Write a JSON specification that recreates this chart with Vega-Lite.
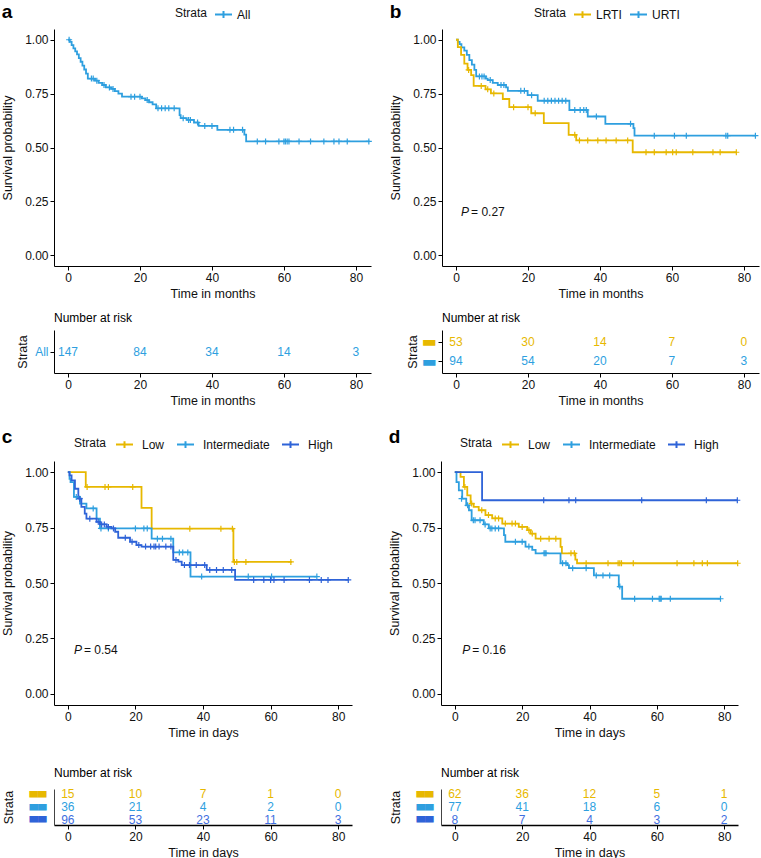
{
"$schema":"https://vega.github.io/schema/vega-lite/v6.json",
"padding":{"left":1,"top":3,"right":0,"bottom":0},
"config":{"font":"Liberation Sans","view":{"stroke":null},
"axis":{"grid":false,"domainColor":"#000","tickColor":"#000","labelColor":"#111","titleColor":"#111","labelFontSize":12,"titleFontSize":12.5,"titleFontWeight":"normal","tickSize":4,"labelPadding":2},
"legend":{"titleFontSize":12,"titleFontWeight":"normal","labelFontSize":12,"titleColor":"#111","labelColor":"#111"},
"title":{"color":"#000"}},
"datasets":{
"a_line":[{"t":0,"s":1,"g":"All"},{"t":0.5,"s":0.99,"g":"All"},{"t":1,"s":0.975,"g":"All"},{"t":1.5,"s":0.96,"g":"All"},{"t":2,"s":0.946,"g":"All"},{"t":2.5,"s":0.932,"g":"All"},{"t":3,"s":0.915,"g":"All"},{"t":3.5,"s":0.898,"g":"All"},{"t":4,"s":0.88,"g":"All"},{"t":4.5,"s":0.862,"g":"All"},{"t":5,"s":0.843,"g":"All"},{"t":5.5,"s":0.82,"g":"All"},{"t":7.5,"s":0.81,"g":"All"},{"t":8.5,"s":0.8,"g":"All"},{"t":9.5,"s":0.79,"g":"All"},{"t":10.5,"s":0.779,"g":"All"},{"t":12,"s":0.772,"g":"All"},{"t":13,"s":0.762,"g":"All"},{"t":14,"s":0.75,"g":"All"},{"t":15,"s":0.736,"g":"All"},{"t":20.5,"s":0.728,"g":"All"},{"t":21.5,"s":0.72,"g":"All"},{"t":22.5,"s":0.71,"g":"All"},{"t":23.5,"s":0.7,"g":"All"},{"t":24.5,"s":0.682,"g":"All"},{"t":31,"s":0.65,"g":"All"},{"t":31.3,"s":0.636,"g":"All"},{"t":33,"s":0.628,"g":"All"},{"t":35,"s":0.616,"g":"All"},{"t":36.3,"s":0.6,"g":"All"},{"t":41.5,"s":0.582,"g":"All"},{"t":49,"s":0.56,"g":"All"},{"t":49.5,"s":0.528,"g":"All"},{"t":83.8,"s":0.528,"g":"All"}],
"a_cens":[{"t":0.3,"s":1,"g":"All"},{"t":6.5,"s":0.82,"g":"All"},{"t":7,"s":0.82,"g":"All"},{"t":8,"s":0.81,"g":"All"},{"t":10,"s":0.79,"g":"All"},{"t":11.5,"s":0.779,"g":"All"},{"t":12.5,"s":0.772,"g":"All"},{"t":17.5,"s":0.736,"g":"All"},{"t":18.5,"s":0.736,"g":"All"},{"t":20,"s":0.736,"g":"All"},{"t":22,"s":0.72,"g":"All"},{"t":25,"s":0.682,"g":"All"},{"t":26,"s":0.682,"g":"All"},{"t":27,"s":0.682,"g":"All"},{"t":28,"s":0.682,"g":"All"},{"t":29.5,"s":0.682,"g":"All"},{"t":32,"s":0.636,"g":"All"},{"t":33.5,"s":0.628,"g":"All"},{"t":34,"s":0.628,"g":"All"},{"t":36,"s":0.616,"g":"All"},{"t":38,"s":0.6,"g":"All"},{"t":40,"s":0.6,"g":"All"},{"t":45,"s":0.582,"g":"All"},{"t":46,"s":0.582,"g":"All"},{"t":48.5,"s":0.582,"g":"All"},{"t":52.6,"s":0.528,"g":"All"},{"t":54.9,"s":0.528,"g":"All"},{"t":58.6,"s":0.528,"g":"All"},{"t":60,"s":0.528,"g":"All"},{"t":60.4,"s":0.528,"g":"All"},{"t":60.9,"s":0.528,"g":"All"},{"t":61.4,"s":0.528,"g":"All"},{"t":64.2,"s":0.528,"g":"All"},{"t":67.4,"s":0.528,"g":"All"},{"t":71.1,"s":0.528,"g":"All"},{"t":73.9,"s":0.528,"g":"All"},{"t":75.3,"s":0.528,"g":"All"},{"t":77.6,"s":0.528,"g":"All"},{"t":83.6,"s":0.528,"g":"All"}],
"b_line":[{"t":0,"s":1,"g":"URTI"},{"t":0.5,"s":0.99,"g":"URTI"},{"t":1,"s":0.98,"g":"URTI"},{"t":1.5,"s":0.965,"g":"URTI"},{"t":2.3,"s":0.95,"g":"URTI"},{"t":3,"s":0.93,"g":"URTI"},{"t":3.7,"s":0.906,"g":"URTI"},{"t":4.4,"s":0.885,"g":"URTI"},{"t":5.1,"s":0.86,"g":"URTI"},{"t":5.6,"s":0.83,"g":"URTI"},{"t":8.3,"s":0.82,"g":"URTI"},{"t":8.8,"s":0.813,"g":"URTI"},{"t":10.2,"s":0.8,"g":"URTI"},{"t":11.6,"s":0.79,"g":"URTI"},{"t":13.9,"s":0.779,"g":"URTI"},{"t":14.4,"s":0.763,"g":"URTI"},{"t":19.9,"s":0.743,"g":"URTI"},{"t":22.7,"s":0.717,"g":"URTI"},{"t":31.5,"s":0.674,"g":"URTI"},{"t":36.6,"s":0.644,"g":"URTI"},{"t":41.5,"s":0.61,"g":"URTI"},{"t":49.3,"s":0.59,"g":"URTI"},{"t":49.6,"s":0.555,"g":"URTI"},{"t":83.4,"s":0.555,"g":"URTI"},
{"t":0,"s":1,"g":"LRTI"},{"t":0.5,"s":0.966,"g":"LRTI"},{"t":1.4,"s":0.93,"g":"LRTI"},{"t":2.3,"s":0.889,"g":"LRTI"},{"t":3.2,"s":0.86,"g":"LRTI"},{"t":4.2,"s":0.836,"g":"LRTI"},{"t":4.9,"s":0.786,"g":"LRTI"},{"t":8.2,"s":0.77,"g":"LRTI"},{"t":9.7,"s":0.751,"g":"LRTI"},{"t":13,"s":0.725,"g":"LRTI"},{"t":14.8,"s":0.687,"g":"LRTI"},{"t":20.9,"s":0.659,"g":"LRTI"},{"t":24.4,"s":0.613,"g":"LRTI"},{"t":31.3,"s":0.559,"g":"LRTI"},{"t":33.4,"s":0.533,"g":"LRTI"},{"t":49.1,"s":0.478,"g":"LRTI"},{"t":78,"s":0.478,"g":"LRTI"}],
"b_cens":[{"t":6.5,"s":0.83,"g":"URTI"},{"t":7.2,"s":0.83,"g":"URTI"},{"t":7.8,"s":0.83,"g":"URTI"},{"t":9.5,"s":0.813,"g":"URTI"},{"t":12.5,"s":0.79,"g":"URTI"},{"t":13.3,"s":0.79,"g":"URTI"},{"t":18,"s":0.763,"g":"URTI"},{"t":19,"s":0.763,"g":"URTI"},{"t":21,"s":0.743,"g":"URTI"},{"t":24.5,"s":0.717,"g":"URTI"},{"t":25.5,"s":0.717,"g":"URTI"},{"t":26.5,"s":0.717,"g":"URTI"},{"t":27.5,"s":0.717,"g":"URTI"},{"t":28.5,"s":0.717,"g":"URTI"},{"t":29.5,"s":0.717,"g":"URTI"},{"t":30.5,"s":0.717,"g":"URTI"},{"t":33,"s":0.674,"g":"URTI"},{"t":34.5,"s":0.674,"g":"URTI"},{"t":35.5,"s":0.674,"g":"URTI"},{"t":36.2,"s":0.674,"g":"URTI"},{"t":39,"s":0.644,"g":"URTI"},{"t":48.5,"s":0.61,"g":"URTI"},{"t":55.1,"s":0.555,"g":"URTI"},{"t":60.7,"s":0.555,"g":"URTI"},{"t":64,"s":0.555,"g":"URTI"},{"t":75,"s":0.555,"g":"URTI"},{"t":75.5,"s":0.555,"g":"URTI"},{"t":83.2,"s":0.555,"g":"URTI"},
{"t":3.5,"s":0.86,"g":"LRTI"},{"t":7,"s":0.786,"g":"LRTI"},{"t":8.8,"s":0.77,"g":"LRTI"},{"t":10.5,"s":0.751,"g":"LRTI"},{"t":16,"s":0.687,"g":"LRTI"},{"t":20,"s":0.687,"g":"LRTI"},{"t":22,"s":0.659,"g":"LRTI"},{"t":33,"s":0.559,"g":"LRTI"},{"t":34.3,"s":0.533,"g":"LRTI"},{"t":36.6,"s":0.533,"g":"LRTI"},{"t":39.4,"s":0.533,"g":"LRTI"},{"t":41.7,"s":0.533,"g":"LRTI"},{"t":44.5,"s":0.533,"g":"LRTI"},{"t":47.7,"s":0.533,"g":"LRTI"},{"t":52.8,"s":0.478,"g":"LRTI"},{"t":55.1,"s":0.478,"g":"LRTI"},{"t":58.4,"s":0.478,"g":"LRTI"},{"t":60.2,"s":0.478,"g":"LRTI"},{"t":61.2,"s":0.478,"g":"LRTI"},{"t":65.8,"s":0.478,"g":"LRTI"},{"t":71.4,"s":0.478,"g":"LRTI"},{"t":73.4,"s":0.478,"g":"LRTI"},{"t":77.9,"s":0.478,"g":"LRTI"}],
"c_line":[{"t":0,"s":1,"g":"Low"},{"t":5.3,"s":0.933,"g":"Low"},{"t":21.8,"s":0.839,"g":"Low"},{"t":24.8,"s":0.745,"g":"Low"},{"t":49,"s":0.595,"g":"Low"},{"t":66.3,"s":0.595,"g":"Low"},
{"t":0,"s":1,"g":"Intermediate"},{"t":0.5,"s":0.97,"g":"Intermediate"},{"t":0.8,"s":0.955,"g":"Intermediate"},{"t":1.8,"s":0.888,"g":"Intermediate"},{"t":3.6,"s":0.858,"g":"Intermediate"},{"t":5.5,"s":0.836,"g":"Intermediate"},{"t":8.5,"s":0.79,"g":"Intermediate"},{"t":9.5,"s":0.746,"g":"Intermediate"},{"t":24.8,"s":0.7,"g":"Intermediate"},{"t":31.2,"s":0.638,"g":"Intermediate"},{"t":36.3,"s":0.529,"g":"Intermediate"},{"t":73.7,"s":0.529,"g":"Intermediate"},
{"t":0,"s":1,"g":"High"},{"t":0.5,"s":0.985,"g":"High"},{"t":1.1,"s":0.963,"g":"High"},{"t":2.1,"s":0.925,"g":"High"},{"t":3.1,"s":0.88,"g":"High"},{"t":4,"s":0.843,"g":"High"},{"t":5,"s":0.813,"g":"High"},{"t":5.5,"s":0.79,"g":"High"},{"t":8.5,"s":0.776,"g":"High"},{"t":9.5,"s":0.764,"g":"High"},{"t":11.5,"s":0.753,"g":"High"},{"t":12.9,"s":0.746,"g":"High"},{"t":14,"s":0.731,"g":"High"},{"t":14.9,"s":0.704,"g":"High"},{"t":18.4,"s":0.686,"g":"High"},{"t":20.3,"s":0.671,"g":"High"},{"t":21.8,"s":0.664,"g":"High"},{"t":31.2,"s":0.604,"g":"High"},{"t":32.7,"s":0.596,"g":"High"},{"t":33.7,"s":0.581,"g":"High"},{"t":41.1,"s":0.559,"g":"High"},{"t":49.5,"s":0.514,"g":"High"},{"t":83,"s":0.514,"g":"High"}],
"c_cens":[{"t":5.7,"s":0.933,"g":"Low"},{"t":11,"s":0.933,"g":"Low"},{"t":12,"s":0.933,"g":"Low"},{"t":19.2,"s":0.933,"g":"Low"},{"t":36.1,"s":0.745,"g":"Low"},{"t":45.3,"s":0.745,"g":"Low"},{"t":48.7,"s":0.745,"g":"Low"},{"t":49.3,"s":0.595,"g":"Low"},{"t":50,"s":0.595,"g":"Low"},{"t":52.7,"s":0.595,"g":"Low"},{"t":66,"s":0.595,"g":"Low"},
{"t":2.5,"s":0.888,"g":"Intermediate"},{"t":7.5,"s":0.836,"g":"Intermediate"},{"t":9.8,"s":0.746,"g":"Intermediate"},{"t":12,"s":0.746,"g":"Intermediate"},{"t":20,"s":0.746,"g":"Intermediate"},{"t":22.5,"s":0.746,"g":"Intermediate"},{"t":23.5,"s":0.746,"g":"Intermediate"},{"t":26.5,"s":0.7,"g":"Intermediate"},{"t":28,"s":0.7,"g":"Intermediate"},{"t":30.5,"s":0.7,"g":"Intermediate"},{"t":33,"s":0.638,"g":"Intermediate"},{"t":34,"s":0.638,"g":"Intermediate"},{"t":35.5,"s":0.638,"g":"Intermediate"},{"t":39.6,"s":0.529,"g":"Intermediate"},{"t":53.4,"s":0.529,"g":"Intermediate"},{"t":60.3,"s":0.529,"g":"Intermediate"},{"t":73.7,"s":0.529,"g":"Intermediate"},
{"t":3.5,"s":0.88,"g":"High"},{"t":6.5,"s":0.79,"g":"High"},{"t":9,"s":0.776,"g":"High"},{"t":10,"s":0.764,"g":"High"},{"t":10.8,"s":0.764,"g":"High"},{"t":12,"s":0.753,"g":"High"},{"t":13.5,"s":0.746,"g":"High"},{"t":17,"s":0.704,"g":"High"},{"t":19,"s":0.686,"g":"High"},{"t":21,"s":0.671,"g":"High"},{"t":23,"s":0.664,"g":"High"},{"t":24.5,"s":0.664,"g":"High"},{"t":25.5,"s":0.664,"g":"High"},{"t":26,"s":0.664,"g":"High"},{"t":27,"s":0.664,"g":"High"},{"t":29,"s":0.664,"g":"High"},{"t":30.5,"s":0.664,"g":"High"},{"t":32,"s":0.604,"g":"High"},{"t":34.5,"s":0.581,"g":"High"},{"t":36,"s":0.581,"g":"High"},{"t":38,"s":0.581,"g":"High"},{"t":40.5,"s":0.581,"g":"High"},{"t":42,"s":0.559,"g":"High"},{"t":44,"s":0.559,"g":"High"},{"t":46,"s":0.559,"g":"High"},{"t":48.5,"s":0.559,"g":"High"},{"t":55,"s":0.514,"g":"High"},{"t":58,"s":0.514,"g":"High"},{"t":60,"s":0.514,"g":"High"},{"t":61,"s":0.514,"g":"High"},{"t":64,"s":0.514,"g":"High"},{"t":71.5,"s":0.514,"g":"High"},{"t":75,"s":0.514,"g":"High"},{"t":77,"s":0.514,"g":"High"},{"t":83,"s":0.514,"g":"High"}],
"d_line":[{"t":0,"s":1,"g":"Low"},{"t":1.7,"s":0.978,"g":"Low"},{"t":2.7,"s":0.933,"g":"Low"},{"t":3.7,"s":0.895,"g":"Low"},{"t":4.7,"s":0.858,"g":"Low"},{"t":5.6,"s":0.843,"g":"Low"},{"t":7.1,"s":0.828,"g":"Low"},{"t":9.1,"s":0.806,"g":"Low"},{"t":11.1,"s":0.791,"g":"Low"},{"t":14.1,"s":0.768,"g":"Low"},{"t":19,"s":0.753,"g":"Low"},{"t":21.5,"s":0.738,"g":"Low"},{"t":22.5,"s":0.723,"g":"Low"},{"t":24,"s":0.7,"g":"Low"},{"t":31.4,"s":0.663,"g":"Low"},{"t":31.8,"s":0.634,"g":"Low"},{"t":35.8,"s":0.605,"g":"Low"},{"t":36.3,"s":0.589,"g":"Low"},{"t":84,"s":0.589,"g":"Low"},
{"t":0,"s":1,"g":"Intermediate"},{"t":0.5,"s":0.955,"g":"Intermediate"},{"t":1.2,"s":0.918,"g":"Intermediate"},{"t":2.2,"s":0.88,"g":"Intermediate"},{"t":3.4,"s":0.85,"g":"Intermediate"},{"t":4.2,"s":0.828,"g":"Intermediate"},{"t":5,"s":0.783,"g":"Intermediate"},{"t":8.6,"s":0.764,"g":"Intermediate"},{"t":10.1,"s":0.746,"g":"Intermediate"},{"t":14.6,"s":0.716,"g":"Intermediate"},{"t":15,"s":0.686,"g":"Intermediate"},{"t":21,"s":0.664,"g":"Intermediate"},{"t":23,"s":0.649,"g":"Intermediate"},{"t":24,"s":0.634,"g":"Intermediate"},{"t":31.4,"s":0.589,"g":"Intermediate"},{"t":33.4,"s":0.581,"g":"Intermediate"},{"t":33.9,"s":0.567,"g":"Intermediate"},{"t":41.3,"s":0.534,"g":"Intermediate"},{"t":48.7,"s":0.484,"g":"Intermediate"},{"t":49.7,"s":0.429,"g":"Intermediate"},{"t":78.9,"s":0.429,"g":"Intermediate"},
{"t":0,"s":1,"g":"High"},{"t":8.1,"s":0.873,"g":"High"},{"t":83.9,"s":0.873,"g":"High"}],
"d_cens":[{"t":3,"s":0.933,"g":"Low"},{"t":5,"s":0.858,"g":"Low"},{"t":8,"s":0.828,"g":"Low"},{"t":10,"s":0.806,"g":"Low"},{"t":12,"s":0.791,"g":"Low"},{"t":13,"s":0.791,"g":"Low"},{"t":15,"s":0.768,"g":"Low"},{"t":17,"s":0.768,"g":"Low"},{"t":18,"s":0.768,"g":"Low"},{"t":20,"s":0.753,"g":"Low"},{"t":22,"s":0.738,"g":"Low"},{"t":23,"s":0.723,"g":"Low"},{"t":25.5,"s":0.7,"g":"Low"},{"t":28,"s":0.7,"g":"Low"},{"t":30,"s":0.7,"g":"Low"},{"t":34.5,"s":0.634,"g":"Low"},{"t":35.5,"s":0.634,"g":"Low"},{"t":39,"s":0.589,"g":"Low"},{"t":45.5,"s":0.589,"g":"Low"},{"t":48.5,"s":0.589,"g":"Low"},{"t":49,"s":0.589,"g":"Low"},{"t":49.5,"s":0.589,"g":"Low"},{"t":53,"s":0.589,"g":"Low"},{"t":66,"s":0.589,"g":"Low"},{"t":71,"s":0.589,"g":"Low"},{"t":73.5,"s":0.589,"g":"Low"},{"t":75,"s":0.589,"g":"Low"},{"t":84,"s":0.589,"g":"Low"},
{"t":2,"s":0.88,"g":"Intermediate"},{"t":3.8,"s":0.85,"g":"Intermediate"},{"t":5.5,"s":0.783,"g":"Intermediate"},{"t":6,"s":0.783,"g":"Intermediate"},{"t":7.5,"s":0.783,"g":"Intermediate"},{"t":9,"s":0.764,"g":"Intermediate"},{"t":10.5,"s":0.746,"g":"Intermediate"},{"t":11,"s":0.746,"g":"Intermediate"},{"t":12,"s":0.746,"g":"Intermediate"},{"t":13,"s":0.746,"g":"Intermediate"},{"t":18,"s":0.686,"g":"Intermediate"},{"t":20,"s":0.686,"g":"Intermediate"},{"t":22,"s":0.664,"g":"Intermediate"},{"t":26.5,"s":0.634,"g":"Intermediate"},{"t":26.8,"s":0.634,"g":"Intermediate"},{"t":27.1,"s":0.634,"g":"Intermediate"},{"t":32,"s":0.589,"g":"Intermediate"},{"t":33,"s":0.589,"g":"Intermediate"},{"t":35,"s":0.567,"g":"Intermediate"},{"t":39,"s":0.567,"g":"Intermediate"},{"t":42,"s":0.534,"g":"Intermediate"},{"t":44,"s":0.534,"g":"Intermediate"},{"t":46,"s":0.534,"g":"Intermediate"},{"t":49,"s":0.484,"g":"Intermediate"},{"t":53.4,"s":0.429,"g":"Intermediate"},{"t":58.7,"s":0.429,"g":"Intermediate"},{"t":60.7,"s":0.429,"g":"Intermediate"},{"t":61,"s":0.429,"g":"Intermediate"},{"t":61.3,"s":0.429,"g":"Intermediate"},{"t":64,"s":0.429,"g":"Intermediate"},{"t":78.9,"s":0.429,"g":"Intermediate"},
{"t":26.4,"s":0.873,"g":"High"},{"t":33.9,"s":0.873,"g":"High"},{"t":35.9,"s":0.873,"g":"High"},{"t":55.5,"s":0.873,"g":"High"},{"t":74.7,"s":0.873,"g":"High"},{"t":83.9,"s":0.873,"g":"High"}],
"a_risk":[{"t":0,"g":"All","n":147},{"t":20,"g":"All","n":84},{"t":40,"g":"All","n":34},{"t":60,"g":"All","n":14},{"t":80,"g":"All","n":3}],
"b_risk":[{"t":0,"g":"LRTI","n":53},{"t":20,"g":"LRTI","n":30},{"t":40,"g":"LRTI","n":14},{"t":60,"g":"LRTI","n":7},{"t":80,"g":"LRTI","n":0},{"t":0,"g":"URTI","n":94},{"t":20,"g":"URTI","n":54},{"t":40,"g":"URTI","n":20},{"t":60,"g":"URTI","n":7},{"t":80,"g":"URTI","n":3}],
"c_risk":[{"t":0,"g":"Low","n":15},{"t":20,"g":"Low","n":10},{"t":40,"g":"Low","n":7},{"t":60,"g":"Low","n":1},{"t":80,"g":"Low","n":0},{"t":0,"g":"Intermediate","n":36},{"t":20,"g":"Intermediate","n":21},{"t":40,"g":"Intermediate","n":4},{"t":60,"g":"Intermediate","n":2},{"t":80,"g":"Intermediate","n":0},{"t":0,"g":"High","n":96},{"t":20,"g":"High","n":53},{"t":40,"g":"High","n":23},{"t":60,"g":"High","n":11},{"t":80,"g":"High","n":3}],
"d_risk":[{"t":0,"g":"Low","n":62},{"t":20,"g":"Low","n":36},{"t":40,"g":"Low","n":12},{"t":60,"g":"Low","n":5},{"t":80,"g":"Low","n":1},{"t":0,"g":"Intermediate","n":77},{"t":20,"g":"Intermediate","n":41},{"t":40,"g":"Intermediate","n":18},{"t":60,"g":"Intermediate","n":6},{"t":80,"g":"Intermediate","n":0},{"t":0,"g":"High","n":8},{"t":20,"g":"High","n":7},{"t":40,"g":"High","n":4},{"t":60,"g":"High","n":3},{"t":80,"g":"High","n":2}]
},
"spacing":21,
"resolve":{"scale":{"color":"independent","x":"independent","y":"independent"},"legend":{"color":"independent"}},
"vconcat":[
{"columns":2,"spacing":{"row":12,"column":14},
"resolve":{"scale":{"color":"independent","x":"independent","y":"independent"},"legend":{"color":"independent"}},
"concat":[
{"width":317,"height":237,
"title":{"text":"a","anchor":"start","frame":"bounds","fontSize":19,"fontWeight":"bold","offset":-17},
"layer":[
{"data":{"name":"a_line"},"mark":{"type":"line","interpolate":"step-after","strokeWidth":1.8},
"encoding":{"x":{"field":"t","type":"quantitative","scale":{"domain":[-3.9,84.2],"nice":false,"zero":false},"axis":{"values":[0,20,40,60,80],"title":"Time in months","titlePadding":4}},
"y":{"field":"s","type":"quantitative","scale":{"domain":[-0.05,1.05],"nice":false,"zero":false},"axis":{"values":[0,0.25,0.5,0.75,1],"format":".2f","title":"Survival probability","titlePadding":10}},
"color":{"field":"g","type":"nominal","scale":{"domain":["All"],"range":["#2E9FDF"]},"legend":{"title":"Strata","orient":"none","legendX":121,"legendY":-24,"direction":"horizontal","titleOrient":"left","titlePadding":6,"symbolType":"M-1,0H1M0,-0.4V0.4","symbolSize":289,"symbolStrokeWidth":2,"labelOffset":4}}}},
{"data":{"name":"a_cens"},"mark":{"type":"point","shape":"M-1,0H1M0,-1V1","filled":false,"size":36,"strokeWidth":1.2,"opacity":1},
"encoding":{"x":{"field":"t","type":"quantitative"},"y":{"field":"s","type":"quantitative"},"color":{"field":"g","type":"nominal"}}}
]},
{"width":317,"height":237,
"title":{"text":"b","anchor":"start","frame":"bounds","fontSize":19,"fontWeight":"bold","offset":-17},
"layer":[
{"data":{"name":"b_line"},"mark":{"type":"line","interpolate":"step-after","strokeWidth":1.8},
"encoding":{"x":{"field":"t","type":"quantitative","scale":{"domain":[-3.9,84.2],"nice":false,"zero":false},"axis":{"values":[0,20,40,60,80],"title":"Time in months","titlePadding":4}},
"y":{"field":"s","type":"quantitative","scale":{"domain":[-0.05,1.05],"nice":false,"zero":false},"axis":{"values":[0,0.25,0.5,0.75,1],"format":".2f","title":"Survival probability","titlePadding":10}},
"color":{"field":"g","type":"nominal","scale":{"domain":["LRTI","URTI"],"range":["#E7B800","#2E9FDF"]},"legend":{"title":"Strata","orient":"none","legendX":92,"legendY":-24,"direction":"horizontal","titleOrient":"left","titlePadding":6,"symbolType":"M-1,0H1M0,-0.4V0.4","symbolSize":289,"symbolStrokeWidth":2,"labelOffset":4,"columnPadding":4}}}},
{"data":{"name":"b_cens"},"mark":{"type":"point","shape":"M-1,0H1M0,-1V1","filled":false,"size":36,"strokeWidth":1.2,"opacity":1},
"encoding":{"x":{"field":"t","type":"quantitative"},"y":{"field":"s","type":"quantitative"},"color":{"field":"g","type":"nominal"}}},
{"data":{"values":[{}]},"mark":{"type":"text","text":"P","fontStyle":"italic","align":"left","fontSize":12,"color":"#111"},"encoding":{"x":{"datum":1.4},"y":{"datum":0.2}}},
{"data":{"values":[{}]},"mark":{"type":"text","text":"= 0.27","align":"left","dx":10,"fontSize":12,"color":"#111"},"encoding":{"x":{"datum":1.4},"y":{"datum":0.2}}}
]},
{"width":317,"height":43,
"title":{"text":"Number at risk","anchor":"start","frame":"group","fontSize":12,"fontWeight":"normal","offset":5},
"data":{"name":"a_risk"},"mark":{"type":"text","fontSize":12},
"encoding":{"x":{"field":"t","type":"quantitative","scale":{"domain":[-3.9,84.2],"nice":false,"zero":false},"axis":{"values":[0,20,40,60,80],"title":"Time in months","titlePadding":4}},
"y":{"field":"g","type":"ordinal","scale":{"type":"point","domain":["All"],"padding":0.5},"axis":{"title":"Strata","labelColor":"#2E9FDF","titlePadding":5}},
"text":{"field":"n"},
"color":{"field":"g","type":"nominal","scale":{"domain":["All"],"range":["#2E9FDF"]},"legend":null}}},
{"width":317,"height":43,
"title":{"text":"Number at risk","anchor":"start","frame":"group","fontSize":12,"fontWeight":"normal","offset":5},
"data":{"name":"b_risk"},"mark":{"type":"text","fontSize":12},
"encoding":{"x":{"field":"t","type":"quantitative","scale":{"domain":[-3.9,84.2],"nice":false,"zero":false},"axis":{"values":[0,20,40,60,80],"title":"Time in months","titlePadding":4}},
"y":{"field":"g","type":"ordinal","scale":{"type":"point","domain":["LRTI","URTI"],"padding":0.6},"axis":{"title":"Strata","labelExpr":"'▬'","labelFontSize":16,"labelFont":"DejaVu Sans","labelColor":{"condition":{"test":"datum.value === 'LRTI'","value":"#E7B800"},"value":"#2E9FDF"},"titlePadding":1}},
"text":{"field":"n"},
"color":{"field":"g","type":"nominal","scale":{"domain":["LRTI","URTI"],"range":["#E7B800","#2E9FDF"]},"legend":null}}}
]},
{"columns":2,"spacing":{"row":28,"column":34},
"resolve":{"scale":{"color":"independent","x":"independent","y":"independent"},"legend":{"color":"independent"}},
"concat":[
{"width":298,"height":244,
"title":{"text":"c","anchor":"start","frame":"bounds","fontSize":19,"fontWeight":"bold","offset":-12},
"layer":[
{"data":{"name":"c_line"},"mark":{"type":"line","interpolate":"step-after","strokeWidth":1.8},
"encoding":{"x":{"field":"t","type":"quantitative","scale":{"domain":[-4.1,84.1],"nice":false,"zero":false},"axis":{"values":[0,20,40,60,80],"title":"Time in days","titlePadding":4}},
"y":{"field":"s","type":"quantitative","scale":{"domain":[-0.05,1.05],"nice":false,"zero":false},"axis":{"values":[0,0.25,0.5,0.75,1],"format":".2f","title":"Survival probability","titlePadding":10}},
"color":{"field":"g","type":"nominal","scale":{"domain":["Low","Intermediate","High"],"range":["#E7B800","#2E9FDF","#2E63D8"]},"legend":{"title":"Strata","orient":"none","legendX":20,"legendY":-26,"direction":"horizontal","titleOrient":"left","titlePadding":8,"symbolType":"M-1,0H1M0,-0.4V0.4","symbolSize":289,"symbolStrokeWidth":2,"labelOffset":8,"columnPadding":8}}}},
{"data":{"name":"c_cens"},"mark":{"type":"point","shape":"M-1,0H1M0,-1V1","filled":false,"size":36,"strokeWidth":1.2,"opacity":1},
"encoding":{"x":{"field":"t","type":"quantitative"},"y":{"field":"s","type":"quantitative"},"color":{"field":"g","type":"nominal"}}},
{"data":{"values":[{}]},"mark":{"type":"text","text":"P","fontStyle":"italic","align":"left","fontSize":12,"color":"#111"},"encoding":{"x":{"datum":1.8},"y":{"datum":0.2}}},
{"data":{"values":[{}]},"mark":{"type":"text","text":"= 0.54","align":"left","dx":10,"fontSize":12,"color":"#111"},"encoding":{"x":{"datum":1.8},"y":{"datum":0.2}}}
]},
{"width":297,"height":244,
"title":{"text":"d","anchor":"start","frame":"bounds","fontSize":19,"fontWeight":"bold","offset":-12},
"layer":[
{"data":{"name":"d_line"},"mark":{"type":"line","interpolate":"step-after","strokeWidth":1.8},
"encoding":{"x":{"field":"t","type":"quantitative","scale":{"domain":[-4.1,84.1],"nice":false,"zero":false},"axis":{"values":[0,20,40,60,80],"title":"Time in days","titlePadding":4}},
"y":{"field":"s","type":"quantitative","scale":{"domain":[-0.05,1.05],"nice":false,"zero":false},"axis":{"values":[0,0.25,0.5,0.75,1],"format":".2f","title":"Survival probability","titlePadding":10}},
"color":{"field":"g","type":"nominal","scale":{"domain":["Low","Intermediate","High"],"range":["#E7B800","#2E9FDF","#2E63D8"]},"legend":{"title":"Strata","orient":"none","legendX":19,"legendY":-26,"direction":"horizontal","titleOrient":"left","titlePadding":8,"symbolType":"M-1,0H1M0,-0.4V0.4","symbolSize":289,"symbolStrokeWidth":2,"labelOffset":8,"columnPadding":8}}}},
{"data":{"name":"d_cens"},"mark":{"type":"point","shape":"M-1,0H1M0,-1V1","filled":false,"size":36,"strokeWidth":1.2,"opacity":1},
"encoding":{"x":{"field":"t","type":"quantitative"},"y":{"field":"s","type":"quantitative"},"color":{"field":"g","type":"nominal"}}},
{"data":{"values":[{}]},"mark":{"type":"text","text":"P","fontStyle":"italic","align":"left","fontSize":12,"color":"#111"},"encoding":{"x":{"datum":2.2},"y":{"datum":0.2}}},
{"data":{"values":[{}]},"mark":{"type":"text","text":"= 0.16","align":"left","dx":10,"fontSize":12,"color":"#111"},"encoding":{"x":{"datum":2.2},"y":{"datum":0.2}}}
]},
{"width":298,"height":36,
"title":{"text":"Number at risk","anchor":"start","frame":"group","fontSize":12,"fontWeight":"normal","offset":5},
"data":{"name":"c_risk"},"mark":{"type":"text","fontSize":12},
"encoding":{"x":{"field":"t","type":"quantitative","scale":{"domain":[-4.1,84.1],"nice":false,"zero":false},"axis":{"values":[0,20,40,60,80],"title":"Time in days","titlePadding":4,"domainWidth":1.5}},
"y":{"field":"g","type":"ordinal","scale":{"type":"point","domain":["Low","Intermediate","High"],"padding":0.4},"axis":{"title":"Strata","ticks":false,"labelPadding":8,"labelOffset":-3,"domainColor":"#444","labelExpr":"'▄▄'","labelFontSize":11,"labelFont":"DejaVu Sans","labelColor":{"condition":[{"test":"datum.value === 'Low'","value":"#E7B800"},{"test":"datum.value === 'Intermediate'","value":"#2E9FDF"}],"value":"#2E63D8"},"titlePadding":14}},
"text":{"field":"n"},
"color":{"field":"g","type":"nominal","scale":{"domain":["Low","Intermediate","High"],"range":["#E7B800","#2E9FDF","#3F6FE0"]},"legend":null}}},
{"width":297,"height":36,
"title":{"text":"Number at risk","anchor":"start","frame":"group","fontSize":12,"fontWeight":"normal","offset":5},
"data":{"name":"d_risk"},"mark":{"type":"text","fontSize":12},
"encoding":{"x":{"field":"t","type":"quantitative","scale":{"domain":[-4.1,84.1],"nice":false,"zero":false},"axis":{"values":[0,20,40,60,80],"title":"Time in days","titlePadding":4,"domainWidth":1.5}},
"y":{"field":"g","type":"ordinal","scale":{"type":"point","domain":["Low","Intermediate","High"],"padding":0.4},"axis":{"title":"Strata","ticks":false,"labelPadding":8,"labelOffset":-3,"domainColor":"#444","labelExpr":"'▄▄'","labelFontSize":11,"labelFont":"DejaVu Sans","labelColor":{"condition":[{"test":"datum.value === 'Low'","value":"#E7B800"},{"test":"datum.value === 'Intermediate'","value":"#2E9FDF"}],"value":"#2E63D8"},"titlePadding":14}},
"text":{"field":"n"},
"color":{"field":"g","type":"nominal","scale":{"domain":["Low","Intermediate","High"],"range":["#E7B800","#2E9FDF","#3F6FE0"]},"legend":null}}}
]}
]
}
